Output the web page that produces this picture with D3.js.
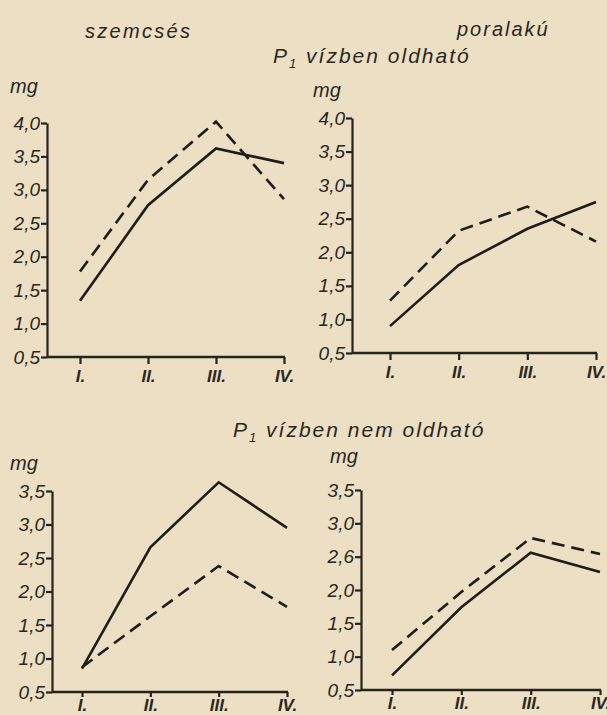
<!DOCTYPE html>
<html>
<head>
<meta charset="utf-8">
<script src="https://cdn.jsdelivr.net/npm/d3@7"></script>
<style>
  body { margin: 0; background: #ecdfc4; }
  svg { display: block; }
  text { font-family: "Liberation Sans", "DejaVu Sans", sans-serif; font-style: italic; fill: #2a2722; }
  .tick text { font-family: "Liberation Sans Narrow", "Liberation Sans", sans-serif; font-size: 19px; }
  .xax .tick text { font-family: "Liberation Sans", sans-serif; font-weight: bold; font-size: 17px; }
  .domain, .tick line { stroke: #26231f; stroke-width: 2.2; }
</style>
</head>
<body>
<svg id="chart" width="607" height="715"></svg>
<script>
// harvest periods
const periods = ["I.", "II.", "III.", "IV."];

// y tick values and labels (as printed)
const yTicksTop = [0.5, 1.0, 1.5, 2.0, 2.5, 3.0, 3.5, 4.0];
const yLabelsTop = ["0,5", "1,0", "1,5", "2,0", "2,5", "3,0", "3,5", "4,0"];
const yTicksBottom = [0.5, 1.0, 1.5, 2.0, 2.5, 3.0, 3.5];
const yLabelsBottomLeft = ["0,5", "1,0", "1,5", "2,0", "2,5", "3,0", "3,5"];
const yLabelsBottomRight = ["0,5", "1,0", "1,5", "2,0", "2,6", "3,0", "3,5"];

// P1 vízben oldható - szemcsés
const solubleGranSolid = [1.34, 2.77, 3.62, 3.40];
const solubleGranDashed = [1.78, 3.15, 4.02, 2.86];
// P1 vízben oldható - poralakú
const solublePowSolid = [0.90, 1.81, 2.35, 2.75];
const solublePowDashed = [1.28, 2.32, 2.68, 2.16];
// P1 vízben nem oldható - szemcsés
const insolGranSolid = [0.85, 2.66, 3.63, 2.95];
const insolGranDashed = [0.87, 1.63, 2.38, 1.77];
// P1 vízben nem oldható - poralakú
const insolPowSolid = [0.72, 1.74, 2.56, 2.27];
const insolPowDashed = [1.10, 1.97, 2.78, 2.54];

const svg = d3.select("#chart");

// panel layout: axis x, point range, y range
const panels = [
  { ax: 47, xr: [80, 284], yr: [357, 123], ticks: yTicksTop, labels: yLabelsTop,
    solid: solubleGranSolid, dashed: solubleGranDashed, mg: [10, 93], tk: 7, pad: 6 },
  { ax: 352, xr: [390, 596], yr: [353, 118], ticks: yTicksTop, labels: yLabelsTop,
    solid: solublePowSolid, dashed: solublePowDashed, mg: [313, 97], tk: 7, pad: 6 },
  { ax: 52, xr: [82, 287], yr: [692, 491], ticks: yTicksBottom, labels: yLabelsBottomLeft,
    solid: insolGranSolid, dashed: insolGranDashed, mg: [10, 470], tk: 5, pad: 2 },
  { ax: 361, xr: [392, 600], yr: [690, 490], ticks: yTicksBottom, labels: yLabelsBottomRight,
    solid: insolPowSolid, dashed: insolPowDashed, mg: [330, 463], tk: 5, pad: 2 }
];

panels.forEach(p => {
  const x = d3.scalePoint().domain(periods).range(p.xr);
  const y = d3.scaleLinear().domain([p.ticks[0], p.ticks[p.ticks.length - 1]]).range(p.yr);
  const g = svg.append("g");

  // x axis line from y axis to last period
  g.append("line")
    .attr("x1", p.ax).attr("x2", p.xr[1] + 1)
    .attr("y1", p.yr[0]).attr("y2", p.yr[0])
    .attr("stroke", "#26231f").attr("stroke-width", 2.4);

  const xAxis = g.append("g").attr("class", "xax")
    .attr("transform", `translate(0,${p.yr[0]})`)
    .call(d3.axisBottom(x).tickSize(p.tk).tickPadding(p.pad));
  xAxis.select(".domain").remove();

  const yAxis = g.append("g")
    .attr("transform", `translate(${p.ax},0)`)
    .call(d3.axisLeft(y).tickValues(p.ticks).tickSize(6).tickSizeOuter(0).tickPadding(1)
      .tickFormat((d, i) => p.labels[i]));
  yAxis.select(".domain").attr("stroke-width", 2.4);

  const line = d3.line().x((d, i) => x(periods[i])).y(d => y(d));
  g.append("path").datum(p.solid)
    .attr("d", line).attr("fill", "none")
    .attr("stroke", "#1f1c19").attr("stroke-width", 2.6);
  g.append("path").datum(p.dashed)
    .attr("d", line).attr("fill", "none")
    .attr("stroke", "#1f1c19").attr("stroke-width", 2.6)
    .attr("stroke-dasharray", "13,7");

  g.append("text").attr("x", p.mg[0]).attr("y", p.mg[1])
    .attr("font-size", 20).text("mg");
});

// titles
svg.append("text").attr("x", 85).attr("y", 38).attr("font-size", 20)
  .attr("letter-spacing", 2.3).text("szemcsés");
svg.append("text").attr("x", 457).attr("y", 36).attr("font-size", 20)
  .attr("letter-spacing", 2).text("poralakú");

function subtitle(xPos, yPos, rest) {
  const t = svg.append("text").attr("x", xPos).attr("y", yPos)
    .attr("font-size", 21).attr("letter-spacing", 2);
  t.append("tspan").text("P");
  t.append("tspan").attr("font-size", 13).attr("dy", 5).text("1");
  t.append("tspan").attr("dy", -5).text(" " + rest);
}
subtitle(273, 63, "vízben oldható");
subtitle(233, 437, "vízben nem oldható");
</script>
</body>
</html>
